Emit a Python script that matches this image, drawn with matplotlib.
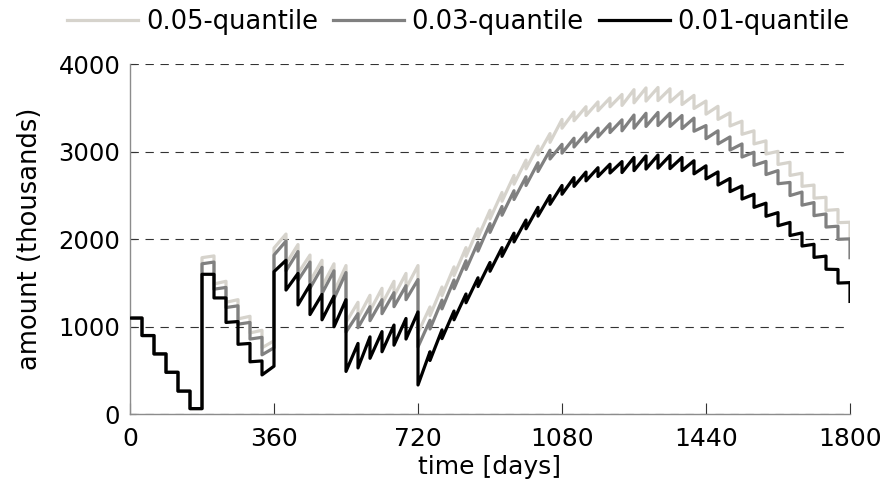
import matplotlib

matplotlib.use("Agg")

import matplotlib.pyplot as plt
import numpy as np

# month length in days; the series jump at every month boundary
MONTH = 30

SERIES_LABELS = ["0.05-quantile", "0.03-quantile", "0.01-quantile"]
SERIES_COLORS = ["#d6d3cc", "#808080", "#000000"]

# value at the start of each month (after the jump), last entry = value after the final drop at day 1800
Q05_OPEN = [1100, 900, 690, 480, 265, 65,
            1790, 1490, 1280, 1090, 930, 760,
            1900, 1720, 1610, 1520, 1460, 1400,
            1050, 1100, 1180, 1260, 1350, 1440,
            930, 1127, 1355, 1585, 1805, 2020, 2232, 2435, 2630, 2805, 2965, 3108,
            3270, 3355, 3415, 3470, 3515, 3530, 3560, 3580, 3585, 3570, 3540, 3495,
            3430, 3370, 3295, 3200, 3090, 2975, 2855, 2730, 2605, 2470, 2330, 2190,
            2000]
# value at the end of each month (before the jump)
Q05_CLOSE = [1100, 900, 690, 480, 265, 65,
             1810, 1520, 1310, 1120, 960, 840,
             2060, 1940, 1820, 1760, 1720, 1700,
             1280, 1360, 1440, 1520, 1610, 1700,
             1227, 1455, 1685, 1905, 2120, 2332, 2535, 2730, 2905, 3065, 3208, 3370,
             3455, 3515, 3570, 3615, 3655, 3710, 3730, 3735, 3720, 3690, 3645, 3580,
             3520, 3445, 3350, 3240, 3125, 3005, 2880, 2755, 2620, 2480, 2340, 2195]

Q03_OPEN = [1100, 900, 690, 480, 265, 65,
            1720, 1430, 1220, 1030, 860, 680,
            1820, 1640, 1530, 1440, 1380, 1320,
            940, 990, 1070, 1150, 1230, 1310,
            770, 975, 1205, 1435, 1655, 1865, 2079, 2275, 2455, 2615, 2775, 2918,
            2985, 3055, 3115, 3170, 3220, 3240, 3270, 3290, 3300, 3290, 3265, 3235,
            3150, 3090, 3020, 2940, 2845, 2740, 2635, 2500, 2390, 2270, 2140, 2000,
            1790]
Q03_CLOSE = [1100, 900, 690, 480, 265, 65,
             1740, 1450, 1240, 1050, 880, 760,
             1980, 1860, 1740, 1680, 1640, 1620,
             1150, 1230, 1310, 1390, 1470, 1540,
             1075, 1305, 1535, 1755, 1965, 2179, 2375, 2555, 2715, 2875, 3018, 3085,
             3155, 3215, 3270, 3320, 3365, 3420, 3440, 3450, 3440, 3415, 3385, 3300,
             3240, 3170, 3090, 2995, 2890, 2785, 2650, 2540, 2420, 2290, 2150, 2005]

Q01_OPEN = [1100, 900, 690, 480, 265, 65,
            1600, 1330, 1050, 800, 600, 450,
            1630, 1420, 1250, 1140, 1080, 1000,
            490, 530, 640, 715, 790, 860,
            335, 615, 865, 1080, 1275, 1460, 1635, 1805, 1970, 2120, 2265, 2400,
            2515, 2605, 2668, 2718, 2758, 2763, 2785, 2803, 2813, 2808, 2785, 2748,
            2690, 2620, 2545, 2460, 2365, 2263, 2155, 2043, 1923, 1793, 1658, 1500,
            1290]
Q01_CLOSE = [1100, 900, 690, 480, 265, 65,
             1600, 1330, 1060, 810, 610, 550,
             1760, 1610, 1480, 1370, 1350, 1310,
             810, 885, 945, 1020, 1095, 1170,
             715, 965, 1180, 1375, 1560, 1735, 1905, 2070, 2220, 2365, 2500, 2615,
             2705, 2768, 2818, 2858, 2888, 2935, 2953, 2963, 2958, 2935, 2898, 2840,
             2770, 2695, 2610, 2515, 2413, 2305, 2193, 2073, 1943, 1808, 1655, 1505]

X_TICKS = [0, 360, 720, 1080, 1440, 1800]
Y_TICKS = [0, 1000, 2000, 3000, 4000]


def month_path(opens, closes):
    days, values = [], []
    for k, (o, c) in enumerate(zip(opens, closes)):
        days += [k * MONTH, (k + 1) * MONTH]
        values += [o, c]
    days.append(len(closes) * MONTH)
    values.append(opens[-1])
    return np.array(days), np.array(values)


plt.rcParams["font.family"] = "DejaVu Sans"

fig = plt.figure(figsize=(8.85, 4.88), dpi=100)
ax = fig.add_axes([130 / 885, 1 - 414.3 / 488, 720 / 885, 350 / 488])

series = [(Q05_OPEN, Q05_CLOSE), (Q03_OPEN, Q03_CLOSE), (Q01_OPEN, Q01_CLOSE)]
handles = []
for (opens, closes), label, color in zip(series, SERIES_LABELS, SERIES_COLORS):
    x, y = month_path(opens, closes)
    (line,) = ax.plot(x, y, color=color, lw=2.3, label=label, zorder=3)
    handles.append(line)

ax.set_xlim(0, 1800)
ax.set_ylim(0, 4000)
ax.set_xticks(X_TICKS)
ax.set_yticks(Y_TICKS)

ax.grid(axis="y", color="#333333", lw=0.8, linestyle=(0, (7.5, 6)), zorder=2.5)

for side in ["top", "right"]:
    ax.spines[side].set_visible(False)
for side in ["left", "bottom"]:
    ax.spines[side].set_color("#8c8c8c")
    ax.spines[side].set_linewidth(1.0)
    ax.spines[side].set_zorder(2)

ax.tick_params(axis="x", direction="in", length=8, width=0.8, color="#333333",
               labelsize=18, pad=9)
ax.tick_params(axis="y", direction="in", length=4, width=0.8, color="#333333",
               labelsize=17.5, pad=7)

ax.set_xlabel("time [days]", fontsize=18, labelpad=3)
ax.set_ylabel("amount (thousands)", fontsize=18.5, labelpad=11)

fig.legend(handles=handles, loc="center", bbox_to_anchor=(0.518, 1 - 22 / 488),
           ncol=3, frameon=False, fontsize=18.5, handlelength=2.76,
           handletextpad=0.3, columnspacing=0.58, borderaxespad=0)

fig.savefig("out.png", dpi=100)
